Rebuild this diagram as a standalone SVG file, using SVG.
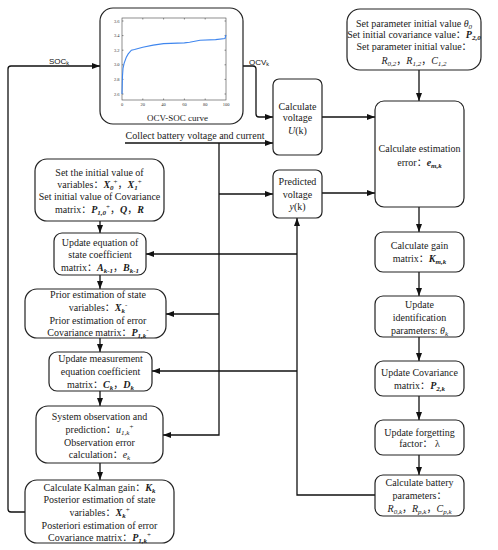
<svg xmlns="http://www.w3.org/2000/svg" width="498" height="550" viewBox="0 0 498 550">
<defs>
<marker id="ar" markerUnits="userSpaceOnUse" markerWidth="9" markerHeight="7" refX="8" refY="3" orient="auto">
<path d="M0,0 L8,3 L0,6 z" fill="#111"/>
</marker>
<style>
.box{fill:#fff;stroke:#222;stroke-width:1.2}
.t{font-family:"Liberation Serif","Noto Sans CJK SC",serif;font-size:10px;fill:#1a1a1a;text-anchor:middle}
.m{font-weight:bold;font-style:italic}
.i{font-style:italic}
.s{font-size:7px}
.c{fill:none;stroke:#111;stroke-width:1.3}
.ca{fill:none;stroke:#111;stroke-width:1.3;marker-end:url(#ar)}
.lab{font-family:"Liberation Sans",sans-serif;font-size:8px;fill:#111}
.tk{font-family:"Liberation Serif",serif;font-size:4.5px;fill:#333}
.ax{fill:none;stroke:#444;stroke-width:0.6}
</style>
</defs>
<rect width="498" height="550" fill="#fff"/>

<g id="connectors">
<path class="ca" d="M25,512 H11 Q8,512 8,509 V69 Q8,66 11,66 H100"/>
<path class="ca" d="M243,66 H253 Q256,66 256,69 V114 Q256,117 259,117 H273"/>
<path class="ca" d="M322,117 H375"/>
<path class="ca" d="M419,70 V101"/>
<path class="ca" d="M322,193 H375"/>
<path class="ca" d="M419,207 V232"/>
<path class="ca" d="M419,272 V296"/>
<path class="ca" d="M419,337 V361"/>
<path class="ca" d="M419,396 V420"/>
<path class="ca" d="M419,455 V475"/>
<path class="ca" d="M375,495 H297 V218"/>
<path class="ca" d="M297,254 H146"/>
<path class="ca" d="M297,371 H152"/>
<path class="ca" d="M125,143 H273"/>
<path class="ca" d="M219,143 V435 H163"/>
<path class="ca" d="M219,194 H273"/>
<path class="ca" d="M219,314 H166"/>
<path class="ca" d="M100,221 V233"/>
<path class="ca" d="M100,275 V289"/>
<path class="ca" d="M100,338 V352"/>
<path class="ca" d="M100,391 V406"/>
<path class="ca" d="M100,463 V480"/>
<text class="lab" x="49" y="64">SOC<tspan font-size="5.5" dy="1">k</tspan></text>
<text class="lab" x="249" y="65">OCV<tspan font-size="5.5" dy="1">k</tspan></text>
<text class="t" x="195" y="139">Collect battery voltage and current</text>
</g>

<g id="ocv-soc">
<rect class="box" x="100" y="8" width="143" height="116" rx="13"/>
<rect class="ax" x="122" y="18" width="104" height="82"/>
<g class="ax">
<path d="M122,21h1.5M122,35.6h1.5M122,50.2h1.5M122,64.8h1.5M122,79.4h1.5M122,94h1.5M226,21h-1.5M226,35.6h-1.5M226,50.2h-1.5M226,64.8h-1.5M226,79.4h-1.5M226,94h-1.5"/>
<path d="M142.8,100v-1.5M163.6,100v-1.5M184.4,100v-1.5M205.2,100v-1.5M142.8,18v1.5M163.6,18v1.5M184.4,18v1.5M205.2,18v1.5"/>
</g>
<g class="tk" text-anchor="end">
<text x="119.5" y="22.5">3.6</text>
<text x="119.5" y="37.1">3.4</text>
<text x="119.5" y="51.7">3.2</text>
<text x="119.5" y="66.3">3.0</text>
<text x="119.5" y="80.9">2.8</text>
<text x="119.5" y="95.5">2.6</text>
</g>
<g class="tk" text-anchor="middle">
<text x="122" y="106">0</text>
<text x="142.8" y="106">20</text>
<text x="163.6" y="106">40</text>
<text x="184.4" y="106">60</text>
<text x="205.2" y="106">80</text>
<text x="226" y="106">100</text>
</g>
<path d="M122,94 L122.5,75.8 L123,68.5 L124.1,63.3 L126.2,57.5 L128.2,53.9 L131.4,50.2 L134.5,49.5 L142.8,47.3 L153.2,45.1 L163.6,43.6 L184.4,42.9 L189.6,42.2 L200,40.3 L215.6,39.6 L225,38.5 L226,34.9" fill="none" stroke="#3f86ee" stroke-width="1.1"/>
<text class="t" x="177.5" y="120.5" style="font-size:9px">OCV-SOC curve</text>
</g>

<g id="param-init">
<rect class="box" x="347" y="9" width="134" height="61" rx="13"/>
<text class="t" x="414" y="26.5">Set parameter initial value <tspan class="i">θ</tspan><tspan class="s i" dy="2">0</tspan></text>
<text class="t" x="414" y="38">Set initial covariance value：<tspan class="m">P</tspan><tspan class="s m" dy="2">2,0</tspan></text>
<text class="t" x="414" y="50">Set parameter initial value：</text>
<text class="t" x="414" y="63.5" fill="#444"><tspan class="i">R</tspan><tspan class="s i" dy="2">0,2</tspan><tspan dy="-2">，</tspan><tspan class="i">R</tspan><tspan class="s i" dy="2">1,2</tspan><tspan dy="-2">，</tspan><tspan class="i">C</tspan><tspan class="s i" dy="2">1,2</tspan></text>
</g>

<g id="calc-voltage">
<rect class="box" x="273" y="79" width="49" height="76" rx="6"/>
<text class="t" x="297.5" y="109.5">Calculate</text>
<text class="t" x="297.5" y="121">voltage</text>
<text class="t" x="297.5" y="133.5"><tspan class="i">U</tspan>(k)</text>
</g>

<g id="pred-voltage">
<rect class="box" x="273" y="170" width="49" height="48" rx="6"/>
<text class="t" x="297.5" y="185">Predicted</text>
<text class="t" x="297.5" y="197.5">voltage</text>
<text class="t" x="297.5" y="209.5"><tspan class="i">y</tspan>(k)</text>
</g>

<g id="est-error">
<rect class="box" x="375" y="101" width="89" height="106" rx="9"/>
<text class="t" x="419.5" y="151.5">Calculate estimation</text>
<text class="t" x="419.5" y="165.5">error：<tspan class="m">e</tspan><tspan class="s m" dy="2">m,k</tspan></text>
</g>

<g id="gain">
<rect class="box" x="375" y="232" width="89" height="40" rx="8"/>
<text class="t" x="419.5" y="248.5">Calculate gain</text>
<text class="t" x="419.5" y="261.5">matrix：<tspan class="m">K</tspan><tspan class="s m" dy="2">m,k</tspan></text>
</g>

<g id="update-id">
<rect class="box" x="375" y="296" width="89" height="41" rx="8"/>
<text class="t" x="419.5" y="307.5">Update</text>
<text class="t" x="419.5" y="320.5">identification</text>
<text class="t" x="419.5" y="334">parameters: <tspan class="i">θ</tspan><tspan class="s i" dy="2">k</tspan></text>
</g>

<g id="update-cov">
<rect class="box" x="375" y="361" width="89" height="35" rx="8"/>
<text class="t" x="419.5" y="375.5">Update Covariance</text>
<text class="t" x="419.5" y="389">matrix：<tspan class="m">P</tspan><tspan class="s m" dy="2">2,k</tspan></text>
</g>

<g id="forgetting">
<rect class="box" x="375" y="420" width="89" height="35" rx="8"/>
<text class="t" x="419.5" y="435.5">Update forgetting</text>
<text class="t" x="419.5" y="447">factor：  λ</text>
</g>

<g id="battery-params">
<rect class="box" x="375" y="475" width="89" height="41" rx="8"/>
<text class="t" x="419.5" y="485.5">Calculate battery</text>
<text class="t" x="419.5" y="498.5">parameters：</text>
<text class="t" x="419.5" y="512" fill="#444"><tspan class="i">R</tspan><tspan class="s i" dy="2">0,k</tspan><tspan dy="-2">，</tspan><tspan class="i">R</tspan><tspan class="s i" dy="2">p,k</tspan><tspan dy="-2">，</tspan><tspan class="i">C</tspan><tspan class="s i" dy="2">p,k</tspan></text>
</g>

<g id="init-values">
<rect class="box" x="35" y="159" width="129" height="62" rx="12"/>
<text class="t" x="99.5" y="175.5">Set the initial value of</text>
<text class="t" x="99.5" y="187.5">variables：<tspan class="m">X</tspan><tspan class="s m" dy="2">0</tspan><tspan class="s" dy="-6">+</tspan><tspan dy="4">，</tspan><tspan class="m">X</tspan><tspan class="s m" dy="2">1</tspan><tspan class="s" dy="-6">+</tspan></text>
<text class="t" x="99.5" y="199.5">Set initial value of Covariance</text>
<text class="t" x="99.5" y="212.5">matrix：<tspan class="m">P</tspan><tspan class="s m" dy="2">1,0</tspan><tspan class="s" dy="-6">+</tspan><tspan dy="4">，</tspan><tspan class="m">Q</tspan>，<tspan class="m">R</tspan></text>
</g>

<g id="state-coef">
<rect class="box" x="54" y="233" width="92" height="42" rx="8"/>
<text class="t" x="100" y="245.5">Update equation of</text>
<text class="t" x="100" y="257.5">state coefficient</text>
<text class="t" x="100" y="270.5">matrix：<tspan class="m">A</tspan><tspan class="s m" dy="2">k-1</tspan><tspan dy="-2">，</tspan><tspan class="m">B</tspan><tspan class="s m" dy="2">k-1</tspan></text>
</g>

<g id="prior-est">
<rect class="box" x="25" y="289" width="141" height="49" rx="12"/>
<text class="t" x="98" y="297.5">Prior estimation of state</text>
<text class="t" x="98" y="310.5">variables：<tspan class="m">X</tspan><tspan class="s m" dy="2">k</tspan><tspan class="s" dy="-6">-</tspan></text>
<text class="t" x="98" y="323.5">Prior estimation of error</text>
<text class="t" x="98" y="336">Covariance matrix：<tspan class="m">P</tspan><tspan class="s m" dy="2">1,k</tspan><tspan class="s" dy="-6">-</tspan></text>
</g>

<g id="meas-coef">
<rect class="box" x="49" y="352" width="103" height="39" rx="8"/>
<text class="t" x="100.5" y="361.5">Update measurement</text>
<text class="t" x="100.5" y="374.5">equation coefficient</text>
<text class="t" x="100.5" y="387.5">matrix：<tspan class="m">C</tspan><tspan class="s m" dy="2">k</tspan><tspan dy="-2">，</tspan><tspan class="m">D</tspan><tspan class="s m" dy="2">k</tspan></text>
</g>

<g id="sys-obs">
<rect class="box" x="36" y="406" width="127" height="57" rx="12"/>
<text class="t" x="99.5" y="419.5">System observation and</text>
<text class="t" x="99.5" y="432.5">prediction：<tspan class="i">u</tspan><tspan class="s i" dy="2">1,k</tspan><tspan class="s" dy="-6">+</tspan></text>
<text class="t" x="99.5" y="445.5">Observation error</text>
<text class="t" x="99.5" y="457.5">calculation：<tspan class="i">e</tspan><tspan class="s i" dy="2">k</tspan></text>
</g>

<g id="kalman">
<rect class="box" x="25" y="480" width="149" height="63" rx="12"/>
<text class="t" x="99.5" y="490.5">Calculate Kalman gain：<tspan class="m">K</tspan><tspan class="s m" dy="2">k</tspan></text>
<text class="t" x="99.5" y="502.5">Posterior estimation of state</text>
<text class="t" x="99.5" y="515.5">variables：<tspan class="m">X</tspan><tspan class="s m" dy="2">k</tspan><tspan class="s" dy="-6">+</tspan></text>
<text class="t" x="99.5" y="528.5">Posteriori estimation of error</text>
<text class="t" x="99.5" y="540.5">Covariance matrix：<tspan class="m">P</tspan><tspan class="s m" dy="2">1,k</tspan><tspan class="s" dy="-6">+</tspan></text>
</g>
</svg>
